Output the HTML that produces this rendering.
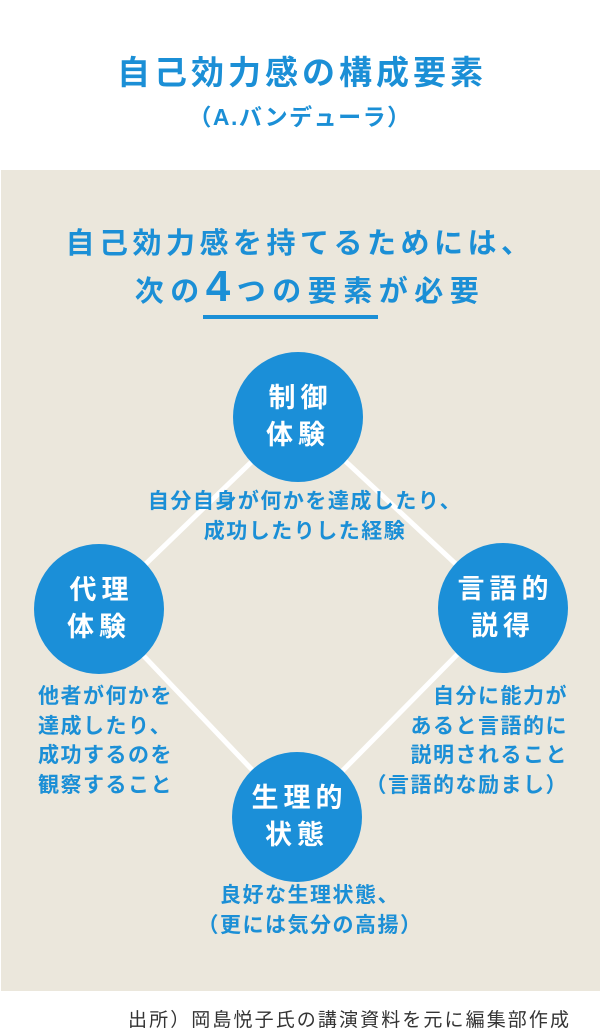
<!DOCTYPE html>
<html><head><meta charset="utf-8"><style>
body{margin:0;width:600px;height:1030px;background:#fff;position:relative;overflow:hidden;font-family:"Liberation Sans","Noto Sans CJK JP",sans-serif;}
.a{position:absolute;white-space:nowrap;}
.b{color:#1b8fd6;font-weight:bold;}
.c{position:absolute;width:130px;height:130px;border-radius:50%;background:#1b8fd8;color:#fff;font-weight:bold;font-size:27px;line-height:37px;text-align:center;display:flex;align-items:center;justify-content:center;letter-spacing:5px;text-indent:5px;}
.d{font-size:21px;line-height:29.5px;letter-spacing:1.5px;}
</style></head><body>
<div class="a b" style="left:0;width:600px;text-align:center;top:46px;font-size:33px;letter-spacing:4px;text-indent:4px;">自己効力感の構成要素</div>
<div class="a b" style="left:0;width:600px;text-align:center;top:98px;font-size:23px;letter-spacing:1.5px;">（A.バンデューラ）</div>
<div class="a" style="left:1px;top:170px;width:599px;height:821px;background:#ebe7dc;"></div>
<div class="a b" style="left:0;width:600px;text-align:center;top:220px;font-size:29px;letter-spacing:4.5px;">自己効力感を持てるためには、</div>
<div class="a b" style="left:0;width:620px;text-align:center;top:262px;font-size:29px;letter-spacing:6.5px;line-height:50px;">次の<span style="font-size:44px;">4</span>つの要素が必要</div>
<div class="a" style="left:203px;top:315px;width:175px;height:4px;background:#1b8fd6;"></div>
<svg class="a" style="left:0;top:0" width="600" height="1030"><polygon points="298,417 503,608 297,817 99,609" fill="none" stroke="#fff" stroke-width="5"/></svg>
<div class="c" style="left:233px;top:352px;">制御<br>体験</div>
<div class="c" style="left:34px;top:544px;">代理<br>体験</div>
<div class="c" style="left:438px;top:543px;">言語的<br>説得</div>
<div class="c" style="left:232px;top:752px;">生理的<br>状態</div>
<div class="a b d" style="left:0;width:610px;text-align:center;top:487px;">自分自身が何かを達成したり、<br>成功したりした経験</div>
<div class="a b d" style="left:38px;top:682px;">他者が何かを<br>達成したり、<br>成功するのを<br>観察すること</div>
<div class="a b d" style="right:32px;top:682px;text-align:right;">自分に能力が<br>あると言語的に<br>説明されること<br>（言語的な励まし）</div>
<div class="a b d" style="left:0;width:620px;text-align:center;top:881px;">良好な生理状態、<br>（更には気分の高揚）</div>
<div class="a" style="left:128px;top:1005px;font-size:19px;color:#333;letter-spacing:2.1px;">出所）岡島悦子氏の講演資料を元に編集部作成</div>
</body></html>
